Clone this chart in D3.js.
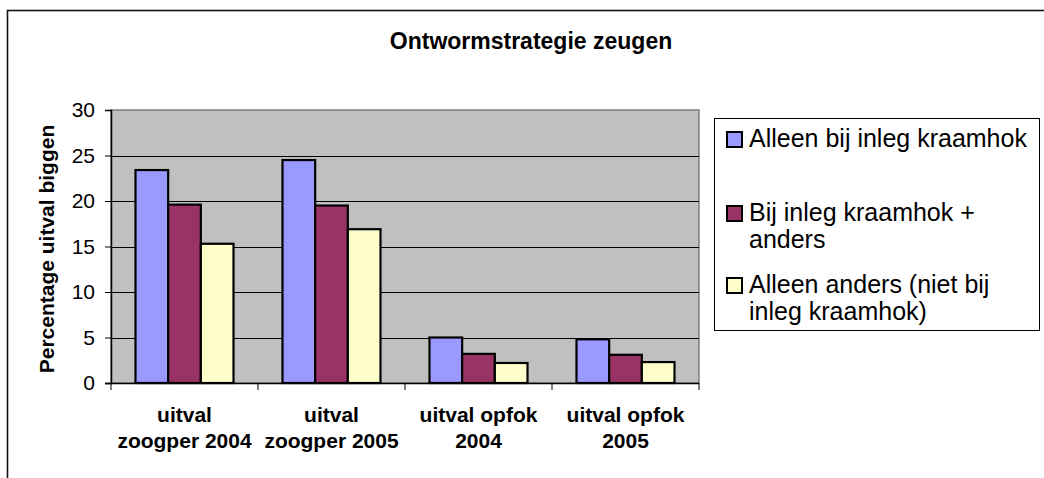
<!DOCTYPE html>
<html>
<head>
<meta charset="utf-8">
<script src="https://d3js.org/d3.v7.min.js"></script>
<style>
  body { margin: 0; background: #fff; }
  svg text { font-family: "Liberation Sans", Arial, sans-serif; fill: #000; }
</style>
</head>
<body>
<div id="chart"></div>
<script>
var categories = [
    ['uitval', 'zoogper 2004'],
    ['uitval', 'zoogper 2005'],
    ['uitval opfok', '2004'],
    ['uitval opfok', '2005']
];
var seriesNames = [
    ['Alleen bij inleg kraamhok'],
    ['Bij inleg kraamhok +', 'anders'],
    ['Alleen anders (niet bij', 'inleg kraamhok)']
];
var seriesColors = ['#9999ff', '#993366', '#ffffcc'];
var alleenKraamhok = [23.4, 24.5, 5.0, 4.8];
var kraamhokAnders = [19.6, 19.5, 3.2, 3.1];
var alleenAnders = [15.3, 16.9, 2.2, 2.3];
var yTicks = [0, 5, 10, 15, 20, 25, 30];

var values = [alleenKraamhok, kraamhokAnders, alleenAnders];

var width = 1044, height = 478;
var plot = { left: 111, right: 699, top: 110, bottom: 383 };

var svg = d3.select('#chart').append('svg')
    .attr('width', width)
    .attr('height', height);

// outer chart frame (open to the right/bottom, as in the picture)
svg.append('rect')
    .attr('x', 7.5).attr('y', 10.5)
    .attr('width', 1060).attr('height', 500)
    .attr('fill', 'none')
    .attr('stroke', '#111')
    .attr('stroke-width', 1.6);

svg.append('text')
    .attr('x', 531).attr('y', 49)
    .attr('text-anchor', 'middle')
    .style('font-size', '23px')
    .style('font-weight', 'bold')
    .text('Ontwormstrategie zeugen');

var catIdx = d3.range(categories.length);
var x0 = d3.scaleBand().domain(catIdx).range([plot.left, plot.right]).padding(0);
var x1 = d3.scaleBand().domain(d3.range(values.length))
    .range([0, x0.bandwidth()])
    .paddingInner(0).paddingOuter(0.75);
var y = d3.scaleLinear().domain([0, 30]).range([plot.bottom, plot.top]);

// plot area
svg.append('rect')
    .attr('x', plot.left).attr('y', plot.top)
    .attr('width', plot.right - plot.left)
    .attr('height', plot.bottom - plot.top)
    .attr('fill', '#c0c0c0')
    .attr('stroke', '#808080')
    .attr('stroke-width', 1.5);

svg.append('g')
    .selectAll('line')
    .data(yTicks.filter(function (d) { return d > 0 && d < 30; }))
    .join('line')
    .attr('x1', plot.left).attr('x2', plot.right)
    .attr('y1', function (d) { return Math.round(y(d)) + 0.5; })
    .attr('y2', function (d) { return Math.round(y(d)) + 0.5; })
    .attr('stroke', '#000')
    .attr('stroke-width', 1);

// bars
values.forEach(function (vals, s) {
    svg.append('g')
        .selectAll('rect')
        .data(vals)
        .join('rect')
        .attr('x', function (d, i) { return x0(i) + x1(s); })
        .attr('y', function (d) { return y(d); })
        .attr('width', x1.bandwidth())
        .attr('height', function (d) { return y(0) - y(d); })
        .attr('fill', seriesColors[s])
        .attr('stroke', '#000')
        .attr('stroke-width', 2.2);
});

// y axis
var yAxis = svg.append('g')
    .attr('transform', 'translate(' + plot.left + ',0)')
    .call(d3.axisLeft(y).tickValues(yTicks).tickSize(6).tickPadding(10));
yAxis.select('.domain').attr('stroke', '#000').attr('stroke-width', 1.5);
yAxis.selectAll('.tick line').attr('stroke', '#000');
yAxis.selectAll('.tick text')
    .style('font-size', '21px')
    .attr('fill', '#000');

// x axis with ticks between categories
var xAxis = svg.append('g');
xAxis.append('line')
    .attr('x1', plot.left - 6).attr('x2', plot.right)
    .attr('y1', plot.bottom + 0.5).attr('y2', plot.bottom + 0.5)
    .attr('stroke', '#000').attr('stroke-width', 1.5);
xAxis.selectAll('.xt')
    .data(d3.range(categories.length + 1))
    .join('line')
    .attr('class', 'xt')
    .attr('x1', function (d) { return plot.left + d * x0.step(); })
    .attr('x2', function (d) { return plot.left + d * x0.step(); })
    .attr('y1', plot.bottom).attr('y2', plot.bottom + 7)
    .attr('stroke', '#000').attr('stroke-width', 1);

var catLabels = svg.append('g')
    .selectAll('text')
    .data(categories)
    .join('text')
    .attr('text-anchor', 'middle')
    .style('font-size', '21px')
    .style('font-weight', 'bold');
catLabels.selectAll('tspan')
    .data(function (d, i) { return d.map(function (t) { return { t: t, i: i }; }); })
    .join('tspan')
    .attr('x', function (d) { return x0(d.i) + x0.bandwidth() / 2; })
    .attr('y', function (d, j) { return 422 + j * 26; })
    .text(function (d) { return d.t; });

svg.append('text')
    .attr('transform', 'translate(54,249) rotate(-90)')
    .attr('text-anchor', 'middle')
    .style('font-size', '21px')
    .style('font-weight', 'bold')
    .text('Percentage uitval biggen');

// legend
var legend = svg.append('g');
legend.append('rect')
    .attr('x', 714.5).attr('y', 118.5)
    .attr('width', 325).attr('height', 212)
    .attr('fill', '#fff')
    .attr('stroke', '#000')
    .attr('stroke-width', 1);

var legendTop = [147, 221, 293];
var item = legend.selectAll('.item')
    .data(seriesNames)
    .join('g')
    .attr('class', 'item');
item.append('rect')
    .attr('x', 727)
    .attr('y', function (d, i) { return legendTop[i] - 15; })
    .attr('width', 15).attr('height', 15)
    .attr('fill', function (d, i) { return seriesColors[i]; })
    .attr('stroke', '#000')
    .attr('stroke-width', 2);
item.append('text')
    .style('font-size', '25px')
    .selectAll('tspan')
    .data(function (d, i) { return d.map(function (t) { return { t: t, i: i }; }); })
    .join('tspan')
    .attr('x', 749)
    .attr('y', function (d, j) { return legendTop[d.i] + j * 27; })
    .text(function (d) { return d.t; });
</script>
</body>
</html>
